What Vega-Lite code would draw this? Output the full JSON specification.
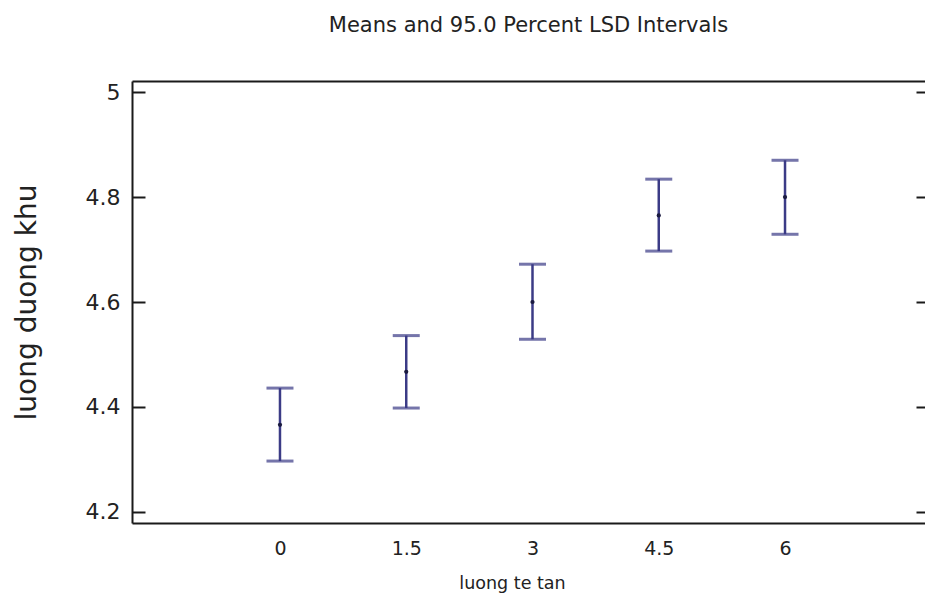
{
  "$schema": "https://vega.github.io/schema/vega-lite/v6.json",
  "autosize": {"type": "none"},
  "width": 793,
  "height": 442,
  "padding": {"left": 132, "top": 81, "right": 0, "bottom": 83},
  "background": "white",
  "config": {
    "view": {"stroke": null},
    "font": "DejaVu Sans",
    "axis": {"grid": false, "domainColor": "#1a1a1a", "domainWidth": 2, "tickColor": "#1a1a1a", "tickWidth": 2, "labelColor": "#222", "titleColor": "#222", "labelFont": "DejaVu Sans", "titleFont": "DejaVu Sans", "titleFontWeight": "normal"}
  },
  "title": {"text": "Means and 95.0 Percent LSD Intervals", "fontSize": 21, "fontWeight": "normal", "font": "DejaVu Sans", "color": "#222", "anchor": "middle", "offset": 45},
  "data": {"values": [
    {"tan": 0, "mean": 4.366, "lower": 4.297, "upper": 4.436},
    {"tan": 1.5, "mean": 4.467, "lower": 4.398, "upper": 4.536},
    {"tan": 3, "mean": 4.600, "lower": 4.529, "upper": 4.672},
    {"tan": 4.5, "mean": 4.765, "lower": 4.697, "upper": 4.834},
    {"tan": 6, "mean": 4.800, "lower": 4.729, "upper": 4.870}
  ]},
  "layer": [
    {
      "mark": {"type": "rule", "color": "#3b3b86", "strokeWidth": 2.5},
      "encoding": {
        "x": {"field": "tan", "type": "quantitative", "scale": {"domain": [-1.758, 7.663], "nice": false, "zero": false},
          "axis": {"orient": "bottom", "values": [0, 1.5, 3, 4.5, 6], "labelExpr": "format(datum.value, '.1~f')", "ticks": false, "tickSize": 0, "labelPadding": 16, "labelFontSize": 19, "title": "luong te tan", "titleFontSize": 17.5, "titlePadding": 16, "titleX": 380, "titleAlign": "center"}},
        "y": {"field": "lower", "type": "quantitative", "scale": {"domain": [4.179, 5.021], "nice": false, "zero": false},
          "axis": {"orient": "left", "values": [4.2, 4.4, 4.6, 4.8, 5], "labelExpr": "format(datum.value, '.1~f')", "tickSize": -13, "labelPadding": 25, "labelFontSize": 22, "title": "luong duong khu", "titleFontSize": 28, "titlePadding": 44}},
        "y2": {"field": "upper"}
      }
    },
    {
      "mark": {"type": "tick", "orient": "horizontal", "color": "#3b3b86", "size": 27, "thickness": 3},
      "encoding": {
        "x": {"field": "tan", "type": "quantitative", "axis": null},
        "y": {"field": "lower", "type": "quantitative", "axis": null}
      }
    },
    {
      "mark": {"type": "tick", "orient": "horizontal", "color": "#3b3b86", "size": 27, "thickness": 3},
      "encoding": {
        "x": {"field": "tan", "type": "quantitative", "axis": null},
        "y": {"field": "upper", "type": "quantitative", "axis": null}
      }
    },
    {
      "mark": {"type": "point", "filled": true, "shape": "circle", "color": "#1a1a40", "size": 18, "opacity": 1},
      "encoding": {
        "x": {"field": "tan", "type": "quantitative",
          "axis": {"orient": "top", "labels": false, "ticks": false, "title": null, "domain": true}},
        "y": {"field": "mean", "type": "quantitative",
          "axis": {"orient": "right", "labels": false, "domain": false, "tickSize": -9, "values": [4.2, 4.4, 4.6, 4.8, 5], "title": null}}
      }
    }
  ],
  "resolve": {"axis": {"x": "independent", "y": "independent"}}
}
